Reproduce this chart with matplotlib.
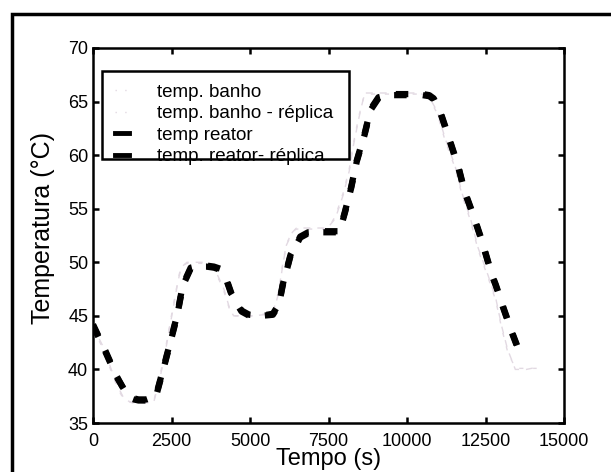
import matplotlib
matplotlib.use("Agg")
import matplotlib.pyplot as plt
from matplotlib.patches import Rectangle
from matplotlib.lines import Line2D

plt.rcParams['font.family'] = ['Liberation Sans', 'DejaVu Sans']

# bath temperature (s, degC)
t_banho = [0, 310, 620, 810, 1000, 1250, 1500, 1930, 2120, 2300, 2490, 2680, 2800,
           2990, 3300, 3610, 3920, 4170, 4360, 4480, 5100, 5730, 5920, 6040, 6160,
           6350, 6480, 7000, 7470, 7720, 7970, 8160, 8280, 8470, 8650, 9500, 10400,
           10710, 10960, 11210, 11520, 11770, 12020, 12270, 12580, 12830, 13010,
           13200, 13450, 13800, 14130]
T_banho = [44.0, 42.2, 39.7, 38.3, 37.2, 36.9, 36.9, 36.9, 39.0, 41.6, 44.7, 47.8, 49.5,
           50.0, 50.0, 50.0, 49.1, 47.5, 45.6, 45.0, 45.0, 45.2, 47.2, 49.7, 51.6,
           52.8, 53.2, 53.2, 53.2, 54.1, 56.3, 58.5, 60.7, 63.5, 65.8, 65.8, 65.8,
           65.4, 64.1, 61.6, 59.1, 56.3, 54.1, 51.3, 48.8, 46.6, 44.1,
           41.9, 40.0, 40.0, 40.2]
T_banho_rep = [43.8, 42.0, 39.5, 38.1, 37.1, 36.9, 36.9, 37.0, 39.2, 41.8, 44.9, 47.9, 49.6,
               49.9, 49.9, 49.9, 49.0, 47.3, 45.5, 45.0, 45.0, 45.3, 47.4, 49.8, 51.7,
               52.9, 53.1, 53.1, 53.1, 54.3, 56.5, 58.7, 60.9, 63.7, 65.7, 65.7, 65.7,
               65.3, 63.9, 61.4, 58.9, 56.1, 53.9, 51.1, 48.6, 46.4, 43.9,
               41.7, 40.1, 40.1, 40.1]

# reactor temperature (s, degC)
t_reator = [0, 370, 750, 1120, 1300, 1450, 1700, 2000, 2240, 2490, 2680, 2860, 3110,
            3400, 3600, 3850, 4050, 4230, 4420, 4730, 4980, 5350, 5730, 5920, 6040,
            6290, 6600, 6850, 7300, 7850, 8030, 8220, 8400, 8650, 8840, 9090, 9500,
            10000, 10500, 10710, 10850, 11080, 11330, 11640, 11830, 12140, 12390,
            12700, 12830, 13080, 13330, 13550, 13700]
T_reator = [44.2, 41.9, 39.4, 37.4, 37.2, 37.1, 37.1, 37.4, 40.0, 42.8, 45.0, 47.8, 49.4,
            49.6, 49.6, 49.5, 49.3, 48.5, 46.9, 45.4, 45.0, 45.0, 45.1, 46.0, 47.8,
            50.6, 52.3, 52.7, 52.8, 52.8, 54.7, 56.9, 59.4, 61.9, 64.2, 65.3, 65.6,
            65.6, 65.6, 65.5, 65.2, 63.8, 61.6, 58.8, 56.6, 54.1, 51.9,
            48.8, 47.8, 45.6, 43.5, 41.8, 41.0]
T_reator_rep = [44.1, 41.8, 39.3, 37.5, 37.3, 37.2, 37.2, 37.5, 40.1, 42.9, 45.1, 47.9, 49.5,
                49.7, 49.7, 49.6, 49.4, 48.6, 47.0, 45.5, 45.1, 45.0, 45.2, 46.1, 47.9,
                50.7, 52.4, 52.8, 52.9, 52.9, 54.8, 57.0, 59.5, 62.0, 64.3, 65.4, 65.7,
                65.7, 65.7, 65.6, 65.3, 63.9, 61.7, 58.9, 56.7, 54.2, 52.0,
                48.9, 47.9, 45.7, 43.6, 41.9, 41.1]

labels = ['temp. banho', 'temp. banho - réplica', 'temp reator', 'temp. reator- réplica']

fig = plt.figure(figsize=(6.11, 4.72), dpi=100)
ax = fig.add_axes([93 / 611, 49 / 472, 471 / 611, 375 / 472])

light = '#e2d9e2'
ax.plot(t_banho, T_banho, color=light, lw=1.0, dashes=(5, 5))
ax.plot(t_banho, T_banho_rep, color=light, lw=1.0, dashes=(3, 7))
ax.plot(t_reator, T_reator, color='black', lw=4.5, dashes=(2.0, 2.6))
ax.plot(t_reator, T_reator_rep, color='black', lw=4.5, dashes=(2.0, 2.6))

ax.set_xlim(0, 15000)
ax.set_ylim(35, 70)
ax.set_xticks(range(0, 15001, 2500))
ax.set_yticks(range(35, 71, 5))
ax.tick_params(direction='in', top=True, right=True, length=4, width=1.8,
               labelsize=13, colors='black')
ax.tick_params(axis='x', pad=7)
for s in ax.spines.values():
    s.set_linewidth(1.8)

ax.set_xlabel('Tempo (s)', fontsize=17)
ax.set_ylabel('Temperatura (°C)', fontsize=18)
ax.xaxis.set_label_coords(0.5, -0.068)
ax.yaxis.set_label_coords(-0.08, 0.52)

# legend (box drawn separately, like the original the last row touches the frame)
handles = [Line2D([], [], color=light, lw=1.0, dashes=(1, 6)),
           Line2D([], [], color=light, lw=1.0, dashes=(1, 6)),
           Line2D([], [], color='black', lw=3.5),
           Line2D([], [], color='black', lw=3.5)]
ax.legend(handles, labels, loc='upper left', bbox_to_anchor=(0.039, 0.915),
          frameon=False, fontsize=13.5, handlelength=0.75, handletextpad=1.5,
          labelspacing=0.23, borderaxespad=0, borderpad=0.2)
ax.add_patch(Rectangle((0.019, 0.704), 0.5245, 0.235, transform=ax.transAxes,
                       fill=False, edgecolor='black', lw=1.8, zorder=5))

# outer frame of the figure
fig.add_artist(Rectangle((12 / 611, -0.05), 1.0, 1 - 14 / 472 + 0.05,
                         transform=fig.transFigure, fill=False,
                         edgecolor='black', lw=2.5))

fig.savefig('out.png', dpi=100)
